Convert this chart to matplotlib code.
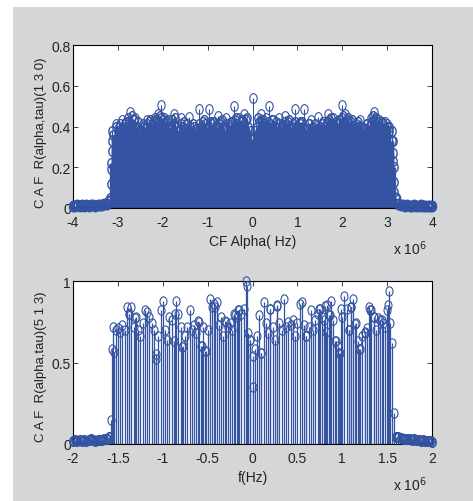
"""MATLAB-style stem plots of the cyclic autocorrelation function (CAF)."""

import matplotlib.pyplot as plt
import numpy as np
from matplotlib.markers import MarkerStyle
from matplotlib.patches import Rectangle
from matplotlib.ticker import FixedLocator, FuncFormatter
from matplotlib.transforms import Affine2D

STEM_BLUE = "#3453a2"
PANEL_GRAY = "#d5d6d8"
TEXT_COLOR = "#222222"
plt.rcParams["font.family"] = ["Liberation Sans Narrow", "Liberation Sans", "DejaVu Sans"]

# ---- top panel: CAF at tau index 130 (x in MHz units of 1e6 Hz) ----
top_floor_left = [0.012, 0.010, 0.014, 0.011, 0.013, 0.012, 0.015, 0.011, 0.013,
                  0.014, 0.012, 0.015, 0.013, 0.016, 0.018, 0.022, 0.035]
top_floor_right = [0.050, 0.020, 0.016, 0.014, 0.012, 0.013, 0.011, 0.012, 0.014,
                   0.012, 0.011, 0.013, 0.012, 0.010, 0.012, 0.011, 0.008]
top_band = [
    0.22, 0.36, 0.40, 0.38, 0.41, 0.39, 0.41, 0.40, 0.42, 0.41, 0.43, 0.40, 0.39,
    0.38, 0.40, 0.39, 0.41, 0.42, 0.41, 0.42, 0.43, 0.42, 0.44, 0.43, 0.41, 0.42,
    0.40, 0.43, 0.41, 0.40, 0.38, 0.41, 0.40, 0.39, 0.41, 0.40, 0.38, 0.40, 0.39,
    0.41, 0.40, 0.42, 0.41, 0.40, 0.42, 0.41, 0.42, 0.40, 0.41, 0.42, 0.40, 0.39,
    0.41, 0.40, 0.42, 0.43, 0.41, 0.40, 0.42, 0.41, 0.43, 0.40, 0.38,
    0.34,
    0.38, 0.40, 0.42, 0.43, 0.41, 0.40, 0.42, 0.41, 0.43, 0.40, 0.39, 0.41, 0.40,
    0.42, 0.41, 0.42, 0.40, 0.41, 0.42, 0.40, 0.41, 0.42, 0.40, 0.39, 0.41, 0.38,
    0.40, 0.41, 0.39, 0.40, 0.41, 0.40, 0.42, 0.43, 0.41, 0.40, 0.42, 0.41, 0.43,
    0.44, 0.42, 0.43, 0.41, 0.42, 0.40, 0.41, 0.40, 0.38, 0.40, 0.39, 0.41, 0.40,
    0.42, 0.43, 0.41, 0.42, 0.40, 0.41, 0.39, 0.40, 0.38, 0.33, 0.20,
]
top_edge_x = [-3.17, -3.16, -3.15, -3.14, -3.13, -3.12, 3.11, 3.12, 3.13, 3.14, 3.15, 3.16]
top_edge_y = [0.05, 0.12, 0.19, 0.28, 0.33, 0.38, 0.38, 0.33, 0.27, 0.23, 0.13, 0.08]
top_peak_x = [-3.05, -2.90, -2.74, -2.65, -2.61, -2.35, -2.10, -2.04, -1.75, -1.60,
              -1.41, -1.19, -0.98, -0.76, -0.60, -0.41, -0.30, -0.19, 0.0, 0.19,
              0.30, 0.375, 0.60, 0.72, 0.94, 1.15, 1.30, 1.47, 1.69, 1.80, 2.00,
              2.06, 2.40, 2.65, 2.71, 2.83, 2.95, 3.00]
top_peak_y = [0.41, 0.43, 0.47, 0.43, 0.44, 0.43, 0.46, 0.505, 0.46, 0.44,
              0.445, 0.486, 0.486, 0.45, 0.44, 0.50, 0.44, 0.46, 0.54, 0.46,
              0.44, 0.50, 0.44, 0.45, 0.486, 0.486, 0.43, 0.445, 0.46, 0.44, 0.505,
              0.46, 0.43, 0.44, 0.47, 0.43, 0.42, 0.41]
top_cluster_x = [-2.97, -2.82, -2.78, -2.69, -2.56, -2.44, -2.28, -2.18, -2.07, -1.98,
                 -1.88, -1.72, -1.52, -1.33, -1.08, -0.88, -0.68, -0.48, -0.36, -0.24,
                 -0.12, 0.12, 0.24, 0.44, 0.52, 0.82, 1.05, 1.25, 1.58, 1.74, 1.92,
                 2.02, 2.12, 2.22, 2.36, 2.55, 2.68, 2.76, 2.88, 3.04]
top_cluster_y = [0.40, 0.42, 0.44, 0.45, 0.42, 0.41, 0.43, 0.44, 0.45, 0.44,
                 0.43, 0.44, 0.42, 0.41, 0.43, 0.42, 0.43, 0.42, 0.44, 0.43,
                 0.44, 0.44, 0.43, 0.43, 0.42, 0.43, 0.42, 0.41, 0.42, 0.44, 0.43,
                 0.45, 0.44, 0.43, 0.42, 0.41, 0.45, 0.44, 0.42, 0.40]

# ---- bottom panel: CAF at tau index 513 ----
bot_floor_left = [0.020, 0.025, 0.020, 0.022, 0.018, 0.025, 0.020, 0.022, 0.028,
                  0.024, 0.020, 0.025, 0.022, 0.026, 0.030, 0.028, 0.040]
bot_floor_right = [0.045, 0.040, 0.035, 0.030, 0.032, 0.028, 0.030, 0.025, 0.028,
                   0.022, 0.025, 0.020, 0.022, 0.020, 0.018, 0.020, 0.012]
bot_band = [
    0.72, 0.70, 0.71, 0.69, 0.73, 0.70, 0.84, 0.80, 0.84, 0.72, 0.78, 0.70, 0.66,
    0.74, 0.82, 0.81, 0.78, 0.74, 0.70, 0.52, 0.66, 0.82, 0.88, 0.70, 0.64, 0.78,
    0.76, 0.63, 0.88, 0.80, 0.72, 0.60, 0.66, 0.72, 0.82, 0.70, 0.73, 0.68, 0.75,
    0.60, 0.72, 0.57, 0.70, 0.89, 0.84, 0.86, 0.87, 0.73, 0.78, 0.66, 0.75, 0.72,
    0.74, 0.70, 0.79, 0.78, 0.82, 0.80, 0.83, 1.00, 0.68, 0.64,
    0.35,
    0.58, 0.66, 0.79, 0.56, 0.87, 0.74, 0.68, 0.83, 0.72, 0.64, 0.85, 0.74, 0.70,
    0.89, 0.72, 0.75, 0.73, 0.76, 0.66, 0.74, 0.86, 0.87, 0.73, 0.66, 0.72, 0.82,
    0.70, 0.76, 0.80, 0.83, 0.78, 0.76, 0.85, 0.79, 0.88, 0.76, 0.63, 0.60, 0.56,
    0.78, 0.91, 0.83, 0.70, 0.84, 0.89, 0.74, 0.63, 0.58, 0.66, 0.69, 0.71, 0.84,
    0.82, 0.78, 0.70, 0.77, 0.76, 0.74, 0.72, 0.82, 0.94, 0.62,
]
bot_extra_x = [-1.575, -1.565, -1.54, -1.375, -1.31, -1.08, -0.86, -0.78, -0.605,
               -0.567, -0.52, -0.42, -0.307, -0.21, -0.16, -0.065, -0.03, 0.0, 0.09,
               0.195, 0.277, 0.60, 0.745, 0.81, 0.82, 0.86, 0.92, 0.96, 0.99, 1.07,
               1.10, 1.144, 1.19, 1.25, 1.31, 1.35, 1.44, 1.51, 1.535, 1.575]
bot_extra_y = [0.15, 0.58, 0.565, 0.80, 0.776, 0.55, 0.80, 0.596, 0.755,
               0.60, 0.57, 0.84, 0.755, 0.796, 0.82, 0.97, 0.64, 0.54, 0.56,
               0.827, 0.847, 0.66, 0.827, 0.847, 0.686, 0.79, 0.63, 0.56, 0.83, 0.70,
               0.84, 0.735, 0.58, 0.68, 0.82, 0.78, 0.76, 0.85, 0.74, 0.19]

OVAL = MarkerStyle("o", fillstyle="none", transform=Affine2D().scale(0.75, 1.0))


def draw_stems(ax, x_mhz, y, lw, ms, mew=0.8):
    x = np.asarray(x_mhz) * 1e6
    ax.vlines(x, 0, y, color=STEM_BLUE, linewidth=lw, zorder=2)
    ax.plot(x, y, linestyle="none", marker=OVAL, markersize=ms,
            markeredgecolor=STEM_BLUE, markeredgewidth=mew,
            clip_on=False, zorder=3)


def style_axis(ax, xticks, yticks, xlabel, ylabel, xlabel_y, ylabel_y):
    ax.xaxis.set_major_locator(FixedLocator(np.asarray(xticks) * 1e6))
    ax.xaxis.set_major_formatter(FuncFormatter(lambda v, _: f"{v / 1e6:g}"))
    ax.yaxis.set_major_locator(FixedLocator(yticks))
    ax.yaxis.set_major_formatter(FuncFormatter(lambda v, _: f"{v:g}"))
    ax.tick_params(direction="in", top=True, right=True, length=3.5, width=0.6,
                   labelsize=10, colors=TEXT_COLOR)
    ax.tick_params(axis="x", pad=5)
    ax.tick_params(axis="y", pad=1.5)
    for spine in ax.spines.values():
        spine.set_linewidth(0.8)
    ax.axhline(0, color="black", linewidth=0.8, zorder=4)
    ax.set_xlabel(xlabel, fontsize=10, color=TEXT_COLOR, va="center")
    ax.xaxis.set_label_coords(0.5, xlabel_y)
    ax.set_ylabel(ylabel, fontsize=9.5, color=TEXT_COLOR, va="center")
    ax.yaxis.set_label_coords(-0.088, ylabel_y)
    ax.text(0.985, xlabel_y - 0.045, "x 10$^{6}$", transform=ax.transAxes,
            ha="right", va="center", fontsize=10, color=TEXT_COLOR)


fig = plt.figure(figsize=(4.73, 5.02), dpi=100, facecolor="white")
fig.patches.append(Rectangle((13 / 473, 0), 460 / 473, 494 / 502,
                             transform=fig.transFigure, facecolor=PANEL_GRAY,
                             edgecolor="none", zorder=-10))

ax_top = fig.add_axes([73 / 473, 1 - 209 / 502, 359 / 473, 163 / 502], zorder=2)
ax_bot = fig.add_axes([73 / 473, 1 - 445 / 502, 359 / 473, 163 / 502], zorder=2)

# top panel
draw_stems(ax_top, np.linspace(-4.0, -3.2, len(top_floor_left)), top_floor_left, 1.0, 7, 1.6)
draw_stems(ax_top, np.linspace(3.2, 4.0, len(top_floor_right)), top_floor_right, 1.0, 7, 1.6)
draw_stems(ax_top, np.linspace(-3.15, 3.15, len(top_band)), top_band, 2.4, 7, 1.0)
draw_stems(ax_top, top_edge_x, top_edge_y, 1.0, 7, 1.0)
draw_stems(ax_top, top_cluster_x, top_cluster_y, 1.0, 7, 1.0)
draw_stems(ax_top, top_peak_x, top_peak_y, 0.8, 7)
ax_top.set_xlim(-4e6, 4e6)
ax_top.set_ylim(0, 0.8)
style_axis(ax_top, [-4, -3, -2, -1, 0, 1, 2, 3, 4], [0, 0.2, 0.4, 0.6, 0.8],
           "CF Alpha( Hz)", "C A F  R(alpha,tau)(1 3 0)", -0.2, 0.47)

# bottom panel
draw_stems(ax_bot, np.linspace(-2.0, -1.6, len(bot_floor_left)), bot_floor_left, 0.8, 6.7, 1.3)
draw_stems(ax_bot, np.linspace(1.6, 2.0, len(bot_floor_right)), bot_floor_right, 0.8, 6.7, 1.3)
draw_stems(ax_bot, np.linspace(-1.55, 1.55, len(bot_band)), bot_band, 0.9, 6.7)
draw_stems(ax_bot, bot_extra_x, bot_extra_y, 0.9, 6.7)
ax_bot.set_xlim(-2e6, 2e6)
ax_bot.set_ylim(0, 1)
style_axis(ax_bot, [-2, -1.5, -1, -0.5, 0, 0.5, 1, 1.5, 2], [0, 0.5, 1],
           "f(Hz)", "C A F  R(alpha,tau)(5 1 3)", -0.2, 0.48)

fig.savefig("out.png", dpi=100, facecolor=fig.get_facecolor())
